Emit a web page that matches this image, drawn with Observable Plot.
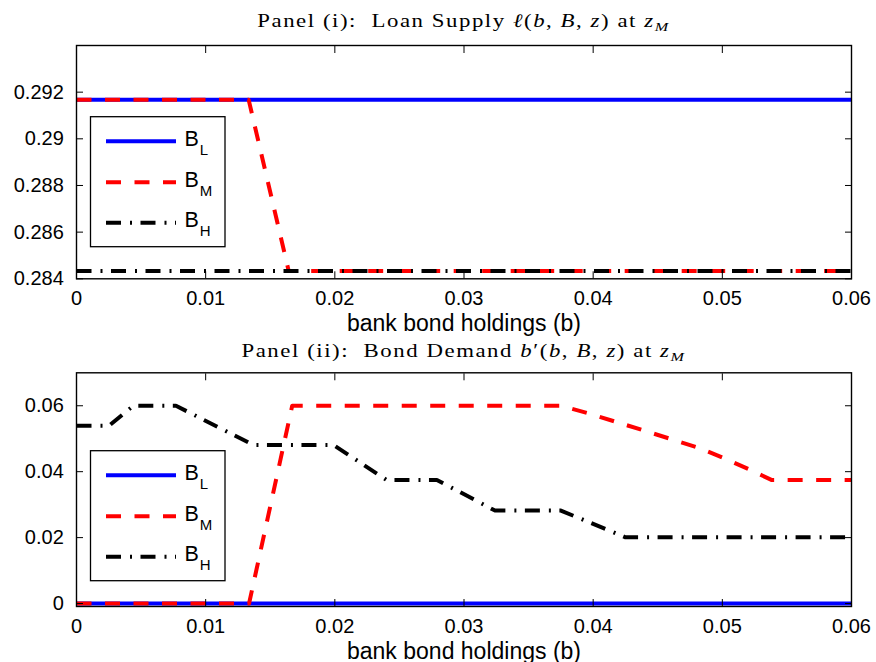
<!DOCTYPE html>
<html>
<head>
<meta charset="utf-8">
<script src="https://cdn.jsdelivr.net/npm/d3@7"></script>
<script src="https://cdn.jsdelivr.net/npm/@observablehq/plot@0.6"></script>
<style>
  html, body { margin: 0; padding: 0; background: #fff; }
  #chart { width: 876px; height: 662px; overflow: hidden; }
  #chart svg { display: block; }
</style>
</head>
<body>
<div id="chart"></div>
<script>
// ---- shared x axis: bank bond holdings b ----
const xTicks = [0, 0.01, 0.02, 0.03, 0.04, 0.05, 0.06];
const xLabel = "bank bond holdings (b)";

// ---- series (aggregate bond state B) ----
const seriesKeys = ["BL", "BM", "BH"];
const seriesSub = ["L", "M", "H"];
const seriesColors = ["#0000ff", "#ff0000", "#000000"];
const seriesDash = [null, "15,13.5", "15,9,2,8.5"];

// ---- Panel (i): loan supply l(b, B, z) at z_M ----
const loanTicks = [0.284, 0.286, 0.288, 0.29, 0.292];
const loanBL_b = [0, 0.06];
const loanBL_v = [0.29167, 0.29167];
const loanBM_b = [0, 0.01333, 0.01643, 0.06];
const loanBM_v = [0.29167, 0.29167, 0.28433, 0.28433];
const loanBH_b = [0, 0.06];
const loanBH_v = [0.28433, 0.28433];

// ---- Panel (ii): bond demand b'(b, B, z) at z_M ----
const bondTicks = [0, 0.02, 0.04, 0.06];
const bondBL_b = [0, 0.06];
const bondBL_v = [0, 0];
const bondBM_b = [0, 0.01336, 0.0167, 0.0375, 0.0398, 0.0440, 0.0482, 0.0503, 0.0523, 0.0538, 0.06];
const bondBM_v = [0, 0, 0.06, 0.06, 0.0575, 0.0524, 0.0472, 0.0438, 0.0403, 0.0375, 0.0375];
const bondBH_b = [0, 0.0025, 0.0044, 0.0077, 0.0137, 0.0199, 0.0240, 0.0279, 0.0324, 0.0375, 0.0425, 0.06];
const bondBH_v = [0.0539, 0.0539, 0.06, 0.06, 0.0481, 0.0481, 0.0375, 0.0375, 0.0282, 0.0282, 0.0201, 0.0201];

const rows = (bs, vs) => bs.map((b, i) => ({b, v: vs[i]}));

const sans = "'Liberation Sans', Arial, Helvetica, sans-serif";
const serif = "'Liberation Serif', 'Times New Roman', serif";

function panel({height, marginTop, marginBottom, yDomain, yTicks, lines, title, titleY, legendY}) {
  const W = 876, ML = 76, MR = 25;
  const svg = Plot.plot({
    width: W, height, marginLeft: ML, marginRight: MR, marginTop, marginBottom,
    x: {domain: [0, 0.06]},
    y: {domain: yDomain},
    style: {fontFamily: sans, fontSize: "20px", color: "black", background: "white", overflow: "visible"},
    marks: [
      ...lines.map((data, i) => Plot.line(data, {
        x: "b", y: "v",
        stroke: seriesColors[i], strokeWidth: 4,
        strokeDasharray: seriesDash[i] ?? undefined,
        strokeLinecap: "butt", strokeLinejoin: "round"
      })),
      Plot.frame({stroke: "black", strokeWidth: 1.4}),
      Plot.axisX(xTicks, {anchor: "bottom", tickSize: -7, tickPadding: 19, tickFormat: String, label: null}),
      Plot.axisX(xTicks, {anchor: "top", tickSize: -7, fill: "none", label: null}),
      Plot.axisY(yTicks, {anchor: "left", tickSize: -7, tickPadding: 19.7, tickFormat: String, label: null}),
      Plot.axisY(yTicks, {anchor: "right", tickSize: -7, fill: "none", label: null}),
      Plot.text([xLabel], {frameAnchor: "bottom", dy: 52, lineAnchor: "bottom", fontSize: 23, fill: "black"})
    ]
  });

  const root = d3.select(svg);

  // title with math-italic parts, set in a wide, lightly spaced serif
  const t = root.append("text")
    .attr("transform", `translate(${(ML + W - MR) / 2},${titleY}) scale(1.2,1)`)
    .attr("text-anchor", "middle")
    .style("font-family", serif)
    .style("font-size", "19px")
    .style("letter-spacing", "1.3px")
    .attr("fill", "black");
  for (const [str, style] of title) {
    const ts = t.append("tspan").text(str);
    if (style === "i") ts.style("font-style", "italic");
    if (style === "sub") ts.style("font-style", "italic").style("font-size", "13.5px").attr("dy", 4);
  }

  // legend box
  const x0 = 90.5, y0 = legendY;
  const g = root.append("g");
  g.append("rect")
    .attr("x", x0).attr("y", y0).attr("width", 134.5).attr("height", 130)
    .attr("fill", "white").attr("stroke", "black").attr("stroke-width", 1.3);
  const rowsY = [24.5, 65.5, 106];
  seriesKeys.forEach((k, i) => {
    const yy = y0 + rowsY[i];
    g.append("line")
      .attr("x1", x0 + 15.5).attr("x2", x0 + 85.5)
      .attr("y1", yy).attr("y2", yy)
      .attr("stroke", seriesColors[i]).attr("stroke-width", 4)
      .attr("stroke-dasharray", seriesDash[i]);
    const lt = g.append("text")
      .attr("x", x0 + 94)
      .attr("y", yy + 4.5)
      .attr("text-anchor", "start")
      .style("font-family", sans)
      .style("font-size", "21.5px")
      .attr("fill", "black");
    lt.append("tspan").text("B");
    lt.append("tspan").style("font-size", "15px").attr("dy", 9).attr("dx", 1).text(seriesSub[i]);
  });

  return svg;
}

const chart = document.getElementById("chart");

chart.append(panel({
  height: 338, marginTop: 45, marginBottom: 59.7,
  yDomain: [0.284, 0.294], yTicks: loanTicks,
  lines: [rows(loanBL_b, loanBL_v), rows(loanBM_b, loanBM_v), rows(loanBH_b, loanBH_v)],
  title: [["Panel (i):  Loan Supply ", ""], ["ℓ", "i"], ["(", ""], ["b", "i"], [", ", ""], ["B", "i"], [", ", ""], ["z", "i"], [") at ", ""], ["z", "i"], ["M", "sub"]],
  titleY: 27.3,
  legendY: 116.7
}));

chart.append(panel({
  height: 324, marginTop: 34.3, marginBottom: 56,
  yDomain: [-0.0009, 0.07], yTicks: bondTicks,
  lines: [rows(bondBL_b, bondBL_v), rows(bondBM_b, bondBM_v), rows(bondBH_b, bondBH_v)],
  title: [["Panel (ii):  Bond Demand ", ""], ["b", "i"], ["′", ""], ["(", ""], ["b", "i"], [", ", ""], ["B", "i"], [", ", ""], ["z", "i"], [") at ", ""], ["z", "i"], ["M", "sub"]],
  titleY: 18.7,
  legendY: 112.7
}));
</script>
</body>
</html>
